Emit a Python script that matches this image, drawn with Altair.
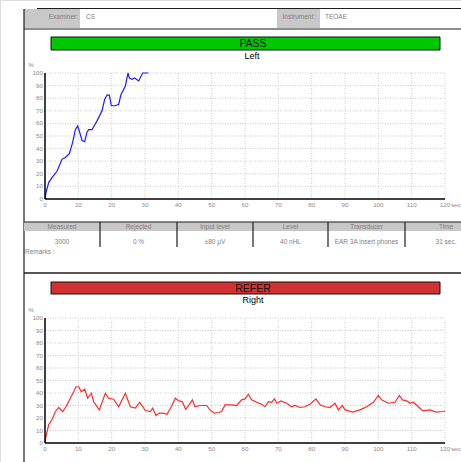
import altair as alt
import pandas as pd

# ---- report content -------------------------------------------------------
examiner = "CS"
instrument = "TEOAE"
table_headers = ["Measured", "Rejected", "Input level", "Level", "Transducer", "Time"]
table_values = ["3000", "0 %", "±80 µV", "40 nHL", "EAR 3A insert phones", "31 sec."]

x_ticks = [0, 10, 20, 30, 40, 50, 60, 70, 80, 90, 100, 110, 120]
y_ticks = [0, 10, 20, 30, 40, 50, 60, 70, 80, 90, 100]

# Left ear: cumulative response (%) over test time (sec)
left_t = [0, 0.3, 1.1, 2.1, 3.6, 5.1, 6.1, 7.3, 8.3, 9.1, 9.8, 10.4, 11.1, 11.9,
          12.6, 13.1, 14.1, 15.6, 17.1, 17.9, 18.6, 19.3, 19.9, 20.9, 22.1, 22.8,
          23.6, 24.1, 24.9, 25.3, 26.1, 26.9, 28.1, 29.3, 31.0]
left_v = [0, 5, 13, 17, 22, 31.5, 33, 36, 45, 55, 58, 53, 46.5, 45.5,
          53, 55, 55, 62, 70, 79, 82.5, 82.5, 74, 74, 75, 83,
          87, 89.7, 100, 96, 95, 96, 93.7, 100, 100]

# Right ear
right_t = [0, 0.3, 1.1, 2.1, 3.1, 4.1, 5.3, 6.3, 7.6, 8.6, 9.3, 10.1, 10.9, 11.9,
           12.8, 13.9, 14.6, 16.3, 18.1, 19.1, 20.6, 22.1, 24.1, 25.6, 27.1, 28.4,
           30.1, 31.6, 32.3, 33.3, 34.3, 35.3, 36.6, 37.9, 39.1, 40.2, 41.2, 42.2,
           43.2, 44.2, 45.0, 46.5, 48.5, 49.5, 50.8, 52.0, 53.0, 54.0, 56.0, 57.5,
           59.0, 60.0, 61.0, 62.0, 63.5, 65.0, 66.0, 67.0, 68.0, 68.8, 69.6, 70.8,
           72.5, 74.0, 75.0, 76.5, 78.0, 79.5, 81.3, 82.5, 84.0, 85.5, 87.0, 88.0,
           89.2, 90.0, 92.3, 94.5, 96.5, 98.5, 100.0, 101.0, 103.0, 105.0, 106.3,
           107.3, 108.5, 109.5, 110.5, 112.0, 113.3, 115.5, 117.3, 119.5, 120.0]
right_v = [0, 5.3, 14.6, 18.6, 25, 28.4, 25, 29, 35.8, 41, 45, 45, 41, 43,
           35.8, 39.8, 33, 26.5, 39.8, 35.8, 35, 29, 39.8, 29, 28, 32.6,
           26, 25.2, 27.8, 22, 23.9, 23.9, 23, 29, 35.8, 33.7, 33, 27,
           30.5, 34.5, 29, 30, 30, 26.5, 23.9, 24.4, 25.2, 30.5, 30.5, 30,
           34.5, 35.3, 39, 34.5, 32.6, 31, 29, 33, 32.6, 35.3, 31.8, 33.7,
           31.8, 29, 30, 28.4, 29, 31, 35.3, 30.5, 29, 28.4, 31.8, 26.5,
           30, 26.5, 24.7, 26.5, 29, 32.6, 38, 34.5, 31.8, 32.6, 38,
           34.5, 33.7, 31.8, 32.6, 29, 25.7, 26.5, 24.7, 25.2, 25.5]

FONT = "Liberation Sans"
GREY_TXT = "#8a8a8a"
LINE_DARK = "#1e1e1e"


def rule(x1, y1, x2, y2, color=LINE_DARK, width=1.0):
    return alt.Chart().mark_rule(color=color, strokeWidth=width).encode(
        x=alt.value(x1), y=alt.value(y1), x2=alt.value(x2), y2=alt.value(y2))


def box(x1, y1, x2, y2, fill, stroke=None, width=1.0):
    kw = dict(fill=fill)
    if stroke:
        kw.update(stroke=stroke, strokeWidth=width)
    return alt.Chart().mark_rect(**kw).encode(
        x=alt.value(x1), y=alt.value(y1), x2=alt.value(x2), y2=alt.value(y2))


def label(s, x, y, size=6.5, color=GREY_TXT, align="center", weight="normal"):
    return alt.Chart().mark_text(
        align=align, baseline="middle", fontSize=size, color=color,
        font=FONT, fontWeight=weight).encode(
        x=alt.value(x), y=alt.value(y), text=alt.value(s))


def panel(t, v, color, y_top, y_bottom):
    xs = alt.Scale(domain=[0, 120], range=[45, 445], nice=False, zero=False)
    ys = alt.Scale(domain=[0, 100], range=[y_bottom, y_top], nice=False, zero=False)
    xt = pd.DataFrame({"t": x_ticks})
    yt = pd.DataFrame({"v": y_ticks})
    grid_style = dict(color="#bdbdbd", strokeWidth=0.8, strokeDash=[1, 1.5])

    vgrid = alt.Chart(xt[xt.t > 0]).mark_rule(**grid_style).encode(
        x=alt.X("t:Q", scale=xs, axis=None),
        y=alt.YDatum(0, type="quantitative", scale=ys, axis=None),
        y2=alt.Y2Datum(100))
    hgrid = alt.Chart(yt[yt.v > 0]).mark_rule(**grid_style).encode(
        y=alt.Y("v:Q", scale=ys, axis=None),
        x=alt.XDatum(0, type="quantitative", scale=xs, axis=None),
        x2=alt.X2Datum(120))
    yaxis = alt.Chart().mark_rule(color="#000", strokeWidth=1.5).encode(
        x=alt.XDatum(0, type="quantitative", scale=xs, axis=None),
        y=alt.YDatum(0, type="quantitative", scale=ys, axis=None),
        y2=alt.Y2Datum(100))
    xaxis = alt.Chart().mark_rule(color="#000", strokeWidth=1.5).encode(
        y=alt.YDatum(0, type="quantitative", scale=ys, axis=None),
        x=alt.XDatum(0, type="quantitative", scale=xs, axis=None),
        x2=alt.X2Datum(120))
    txt = dict(fontSize=6.2, color=GREY_TXT, font=FONT, baseline="middle")
    xlab = alt.Chart(xt).mark_text(dy=6, align="center", **txt).encode(
        x=alt.X("t:Q", scale=xs, axis=None),
        y=alt.YDatum(0, type="quantitative", scale=ys, axis=None),
        text=alt.Text("t:Q", format="d"))
    ylab = alt.Chart(yt).mark_text(dx=-2, align="right", **txt).encode(
        y=alt.Y("v:Q", scale=ys, axis=None),
        x=alt.XDatum(0, type="quantitative", scale=xs, axis=None),
        text=alt.Text("v:Q", format="d"))
    sec = alt.Chart().mark_text(dx=6, dy=6, align="left", **txt).encode(
        x=alt.XDatum(120, type="quantitative", scale=xs, axis=None),
        y=alt.YDatum(0, type="quantitative", scale=ys, axis=None),
        text=alt.value("sec"))
    pct = alt.Chart().mark_text(dx=-14, dy=-8, align="center", **txt).encode(
        x=alt.XDatum(0, type="quantitative", scale=xs, axis=None),
        y=alt.YDatum(100, type="quantitative", scale=ys, axis=None),
        text=alt.value("%"))
    curve = alt.Chart(pd.DataFrame({"t": t, "v": v})).mark_line(
        color=color, strokeWidth=1.2).encode(
        x=alt.X("t:Q", scale=xs, axis=None),
        y=alt.Y("v:Q", scale=ys, axis=None))
    return alt.layer(vgrid, hgrid, curve, yaxis, xaxis, xlab, ylab, sec, pct)


# ---- frame, header and result banners --------------------------------------
decor = [
    box(24, 9, 80, 28, "#c8c8c8"),
    box(277, 9, 320, 28, "#c8c8c8"),
    rule(37, 8.5, 461, 8.5, width=1.2),
    rule(24, 29, 461, 29, width=1.2),
    rule(24, 9, 24, 462, width=1.2),
    label("Examiner:", 78, 17, align="right", color="#808080"),
    label(examiner, 86, 17, align="left", color="#808080"),
    label("Instrument:", 315, 17, align="right", color="#808080"),
    label(instrument, 325, 17, align="left", color="#808080"),
    box(51, 37, 440, 50, "#00c800", stroke="#111", width=1),
    label("PASS", 253, 44, size=10.5, color="#111"),
    label("Left", 252, 56, size=9, color="#000"),
    # measurement table
    box(24, 222, 461, 231, "#c8c8c8"),
    rule(24, 222, 461, 222, width=1.2),
    label("Remarks :", 25, 252, align="left", color="#808080"),
    rule(24, 273, 461, 273, width=1.5),
    box(51, 282, 440, 294, "#d03232", stroke="#111", width=1),
    label("REFER", 253, 288.5, size=10.5, color="#111"),
    label("Right", 253, 300, size=9, color="#000"),
]

col_edges = [24, 100, 177, 253, 328, 405, 487]
for i, (head, val) in enumerate(zip(table_headers, table_values)):
    cx = (col_edges[i] + col_edges[i + 1]) / 2
    decor.append(label(head, cx, 227, color="#808080"))
    decor.append(label(val, cx, 242, color="#808080"))
for e in col_edges[1:-1]:
    decor.append(rule(e, 222, e, 247, width=1.2))

left_panel = panel(left_t, left_v, "#1a1aff", 73, 199)
right_panel = panel(right_t, right_v, "#ff2a2a", 318, 443)

chart = alt.layer(*decor, left_panel, right_panel).resolve_scale(
    x="independent", y="independent"
).properties(
    width=461, height=462, padding=0,
    autosize=alt.AutoSizeParams(type="none"),
).configure_view(stroke=None).configure(background="white")

chart.save("out.html", embed_options={"renderer": "svg", "actions": False})
